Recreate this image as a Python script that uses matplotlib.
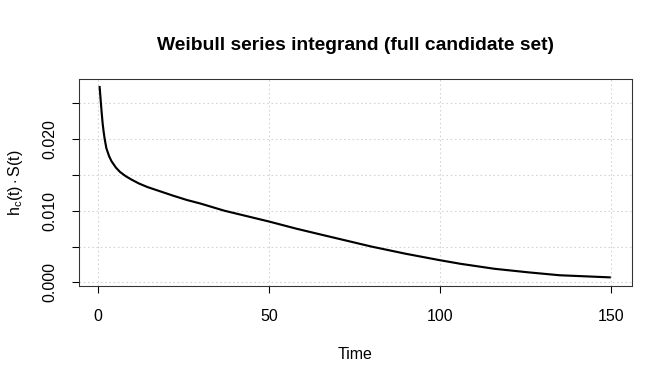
import matplotlib
matplotlib.use("Agg")
import matplotlib.pyplot as plt

plt.rcParams['font.family'] = ['Liberation Sans', 'DejaVu Sans']
plt.rcParams['mathtext.fontset'] = 'custom'
plt.rcParams['mathtext.rm'] = 'Liberation Sans'
plt.rcParams['mathtext.it'] = 'Liberation Sans'

time = [0.5, 0.7, 0.9, 1.1, 1.4, 1.7, 2.0, 2.5, 3.3, 4.0, 5.3, 6.5, 8.2, 10, 12, 14.5,
        17, 22, 26, 30, 37, 50, 58, 65, 80, 90, 100, 106, 116, 126, 135, 150]
value = [0.0274, 0.0262, 0.0250, 0.0238, 0.0222, 0.0210, 0.0200, 0.0187, 0.0176,
         0.0169, 0.0160, 0.0154, 0.0148, 0.0143, 0.0138, 0.0133, 0.0129, 0.0121,
         0.0115, 0.0110, 0.0100, 0.0085, 0.0075, 0.0067, 0.0050, 0.0040, 0.0031,
         0.0026, 0.0019, 0.0014, 0.0010, 0.0007]
x_ticks = [0, 50, 100, 150]
y_ticks = [0.000, 0.005, 0.010, 0.015, 0.020, 0.025]
y_labels = ["0.000", "", "0.010", "", "0.020", ""]

fig = plt.figure(figsize=(7, 4), dpi=96)
ax = fig.add_axes([0.1176, 0.2565, 0.8229, 0.5378])
ax.plot(time, value, color='black', lw=1.6, solid_joinstyle='round', solid_capstyle='butt')
ax.set_xlim(-5.5, 156.2)
ax.set_ylim(-0.00043, 0.02837)
ax.set_xticks(x_ticks)
ax.set_yticks(y_ticks)
ax.set_yticklabels(y_labels, rotation=90, va='center')
for t in x_ticks:
    ax.axvline(t, color='#d3d3d3', lw=0.8, ls=(0, (1.5, 2.5)), zorder=0)
for v in y_ticks:
    ax.axhline(v, color='#d3d3d3', lw=0.8, ls=(0, (1.5, 2.5)), zorder=0)
ax.tick_params(direction='out', length=5.5, width=0.8, labelsize=12)
ax.tick_params(axis='x', pad=12)
ax.tick_params(axis='y', pad=11)
for s in ax.spines.values():
    s.set_color('#333333')
    s.set_linewidth(0.8)
ax.set_title("Weibull series integrand (full candidate set)", fontsize=14.4,
             fontweight='bold', pad=22)
ax.set_xlabel("Time", fontsize=12, labelpad=17)
ax.set_ylabel(r"$\mathrm{h_c(t)\cdot S(t)}$", fontsize=12, labelpad=13)
fig.savefig("out.png", dpi=96)
